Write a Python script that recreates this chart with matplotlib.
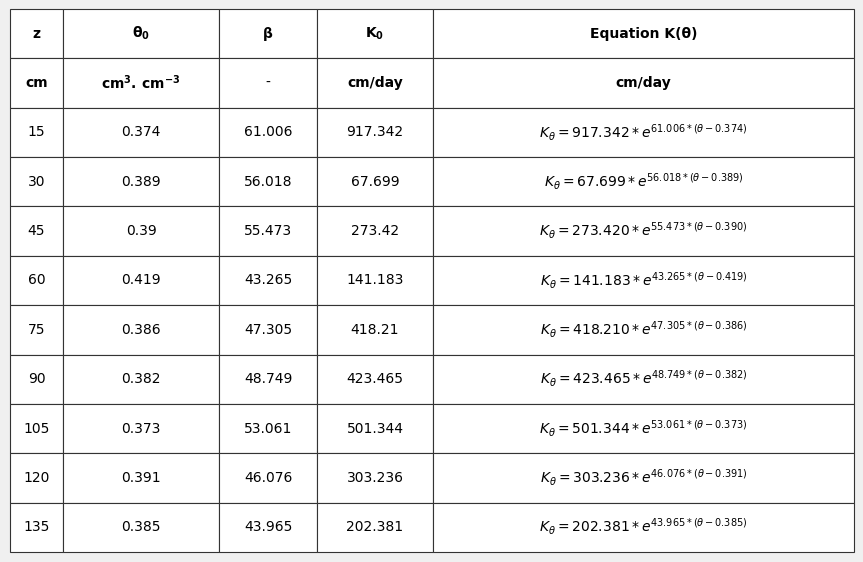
import matplotlib.pyplot as plt

# valores da tabela
z = [15, 30, 45, 60, 75, 90, 105, 120, 135]
theta0 = [0.374, 0.389, 0.39, 0.419, 0.386, 0.382, 0.373, 0.391, 0.385]
beta = [61.006, 56.018, 55.473, 43.265, 47.305, 48.749, 53.061, 46.076, 43.965]
k0 = [917.342, 67.699, 273.42, 141.183, 418.21, 423.465, 501.344, 303.236, 202.381]

header = ['z', r'$\mathbf{\theta_0}$', 'β', r'$\mathbf{K_0}$', 'Equation K(θ)']
units = ['cm', r'$\mathbf{cm^3.\,cm^{-3}}$', '-', 'cm/day', 'cm/day']

rows = [header, units]
for zi, t, b, k in zip(z, theta0, beta, k0):
    eq = r'$K_\theta = %.3f * e^{%.3f * (\theta - %.3f)}$' % (k, b, t)
    rows.append([str(zi), str(t), str(b), str(k), eq])

fig = plt.figure(figsize=(8.63, 5.62), dpi=100, facecolor='#f0f0f0')
ax = fig.add_axes([0, 0, 1, 1])
ax.axis('off')

W, H = 863, 562
x0, x1 = 10, 854
y0, y1 = 9, 552
col_edges = [10, 63, 219, 317, 433, 854]
col_w = [(col_edges[i + 1] - col_edges[i]) / (x1 - x0) for i in range(5)]

tab = ax.table(cellText=rows, colWidths=col_w, cellLoc='center',
               bbox=[x0 / W, 1 - y1 / H, (x1 - x0) / W, (y1 - y0) / H])
tab.auto_set_font_size(False)
tab.set_fontsize(10)

for (r, c), cell in tab.get_celld().items():
    cell.set_edgecolor('#333333')
    cell.set_linewidth(0.8)
    cell.set_facecolor('white')
    if r < 2 and not (r == 1 and c == 2):
        cell.get_text().set_fontweight('bold')

fig.savefig('out.png', dpi=100, facecolor=fig.get_facecolor())
